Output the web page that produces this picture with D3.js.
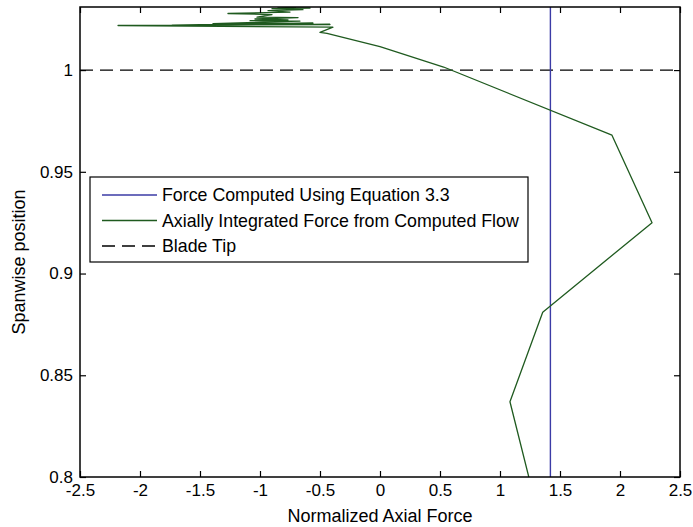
<!DOCTYPE html>
<html>
<head>
<meta charset="utf-8">
<script src="https://cdn.jsdelivr.net/npm/d3@7"></script>
<style>
  body { margin: 0; background: #fff; }
  svg { display: block; }
  text { font-family: "Liberation Sans", Arial, Helvetica, sans-serif; fill: #000; }
</style>
</head>
<body>
<svg id="chart" width="693" height="527"></svg>
<script>
// Tick values
const xTicks = [-2.5, -2, -1.5, -1, -0.5, 0, 0.5, 1, 1.5, 2, 2.5];
const yTicks = [0.8, 0.85, 0.9, 0.95, 1];

// Force from Equation 3.3 (constant along the span)
const equationForce = 1.42;

// Blade tip spanwise position
const bladeTip = 1.0;

// Axially integrated force from the computed flow, ordered along the span
const flowForce = [1.24, 1.083, 1.356, 2.267, 1.933, 0.53, 0.0, -0.442, -0.5, -0.392,
  -2.183, -0.417, -1.733, -0.558, -1.392, -0.667, -1.083, -0.767, -1.042, -0.683,
  -1.025, -0.9, -1.267, -0.75, -0.933, -0.642, -0.9, -0.583, -0.85, -0.7];
const flowSpan = [0.8, 0.837, 0.881, 0.925, 0.968, 1.0015, 1.0115, 1.018, 1.0185, 1.0211,
  1.0219, 1.0224, 1.0221, 1.0231, 1.0228, 1.0241, 1.0243, 1.0246, 1.0251, 1.0258,
  1.026, 1.0273, 1.0278, 1.0285, 1.0292, 1.0297, 1.0302, 1.0305, 1.0309, 1.0311];

const seriesNames = [
  "Force Computed Using Equation 3.3",
  "Axially Integrated Force from Computed Flow",
  "Blade Tip"
];

const xDomain = [-2.5, 2.5];
const yDomain = [0.8, 1.031];

const plot = { left: 80, right: 680, top: 7, bottom: 477 };
const blue = "#3b3ba6";
const green = "#1f5a1f";

const svg = d3.select("#chart");
const x = d3.scaleLinear().domain(xDomain).range([plot.left, plot.right]);
const y = d3.scaleLinear().domain(yDomain).range([plot.bottom, plot.top]);

svg.append("defs").append("clipPath").attr("id", "plotClip")
  .append("rect")
  .attr("x", plot.left).attr("y", plot.top)
  .attr("width", plot.right - plot.left).attr("height", plot.bottom - plot.top);

const data = svg.append("g").attr("clip-path", "url(#plotClip)");

// Blade tip (dashed horizontal)
data.append("line")
  .attr("x1", x(xDomain[0])).attr("x2", x(xDomain[1]))
  .attr("y1", y(bladeTip)).attr("y2", y(bladeTip))
  .attr("stroke", "#000").attr("stroke-width", 1.3)
  .attr("stroke-dasharray", "13,7");

// Equation 3.3 force (vertical)
data.append("line")
  .attr("x1", x(equationForce)).attr("x2", x(equationForce))
  .attr("y1", y(yDomain[0])).attr("y2", y(yDomain[1]))
  .attr("stroke", blue).attr("stroke-width", 1.4);

// Computed-flow force profile
const pts = flowForce.map((v, i) => [v, flowSpan[i]]);
data.append("path")
  .datum(pts)
  .attr("fill", "none")
  .attr("stroke", green)
  .attr("stroke-width", 1.3)
  .attr("stroke-linejoin", "round")
  .attr("d", d3.line().x(d => x(d[0])).y(d => y(d[1])));

// Axes with inward ticks, mirrored on top and right
const fmt = d => String(d);
const tickLen = 6;
const styleAxis = g => {
  g.select(".domain").remove();
  g.selectAll(".tick line").attr("stroke", "#000").attr("stroke-width", 1.2);
  g.selectAll(".tick text").style("font-size", "17px").attr("fill", "#000");
};

svg.append("g")
  .attr("transform", `translate(0,${plot.bottom})`)
  .call(d3.axisBottom(x).tickValues(xTicks).tickFormat(fmt)
    .tickSizeInner(-tickLen).tickSizeOuter(0).tickPadding(7))
  .call(styleAxis);

svg.append("g")
  .attr("transform", `translate(0,${plot.top})`)
  .call(d3.axisTop(x).tickValues(xTicks).tickFormat("")
    .tickSizeInner(-tickLen).tickSizeOuter(0))
  .call(styleAxis);

svg.append("g")
  .attr("transform", `translate(${plot.left},0)`)
  .call(d3.axisLeft(y).tickValues(yTicks).tickFormat(fmt)
    .tickSizeInner(-tickLen).tickSizeOuter(0).tickPadding(7))
  .call(styleAxis);

svg.append("g")
  .attr("transform", `translate(${plot.right},0)`)
  .call(d3.axisRight(y).tickValues(yTicks).tickFormat("")
    .tickSizeInner(-tickLen).tickSizeOuter(0))
  .call(styleAxis);

// Axes box
svg.append("rect")
  .attr("x", plot.left).attr("y", plot.top)
  .attr("width", plot.right - plot.left).attr("height", plot.bottom - plot.top)
  .attr("fill", "none").attr("stroke", "#000").attr("stroke-width", 1.5);

// Axis titles
svg.append("text")
  .attr("x", (plot.left + plot.right) / 2).attr("y", 522)
  .attr("text-anchor", "middle").style("font-size", "18px")
  .text("Normalized Axial Force");

svg.append("text")
  .attr("transform", "translate(25,262) rotate(-90)")
  .attr("text-anchor", "middle").style("font-size", "18px")
  .text("Spanwise position");

// Legend
const legend = svg.append("g");
legend.append("rect")
  .attr("x", 90).attr("y", 177).attr("width", 438).attr("height", 85)
  .attr("fill", "#fff").attr("stroke", "#000").attr("stroke-width", 1.2);

const legendStyles = [
  { color: blue, dash: null },
  { color: green, dash: null },
  { color: "#000", dash: "13,7" }
];
seriesNames.forEach((name, i) => {
  const ly = 195 + i * 25.5;
  legend.append("line")
    .attr("x1", 102).attr("x2", 157).attr("y1", ly).attr("y2", ly)
    .attr("stroke", legendStyles[i].color).attr("stroke-width", 1.3)
    .attr("stroke-dasharray", legendStyles[i].dash);
  legend.append("text")
    .attr("x", 162).attr("y", ly).attr("dy", "0.35em")
    .style("font-size", "17.8px")
    .text(name);
});
</script>
</body>
</html>
